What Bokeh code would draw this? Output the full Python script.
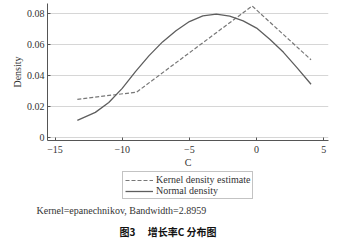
from bokeh.plotting import figure
from bokeh.layouts import column
from bokeh.models import Legend, LegendItem, Label, Range1d, FixedTicker
from bokeh.embed import file_html
from bokeh.resources import INLINE

# Data
kernel_x = [-13.34, -8.93, -0.33, 4.05]
kernel_y = [0.0248, 0.0294, 0.0848, 0.0502]

normal_x = [-13.34, -12, -11, -10, -9, -8, -7, -6, -5, -4, -3, -2, -1, 0, 1, 2, 3, 4.05]
normal_y = [0.0112, 0.0164, 0.0227, 0.0318, 0.0428, 0.0529, 0.0617, 0.0689, 0.0748,
            0.0785, 0.0796, 0.0783, 0.0752, 0.0706, 0.0633, 0.0550, 0.0452, 0.0345]

x_ticks = [-15, -10, -5, 0, 5]
y_ticks = [0, 0.02, 0.04, 0.06, 0.08]
y_tick_labels = ["0", "0.02", "0.04", "0.06", "0.08"]

legend_labels = ["Kernel density estimate", "Normal density"]
note_text = "Kernel=epanechnikov, Bandwidth=2.8959"
caption_text = "图3　 增长率C 分布图"

SERIF = "Liberation Serif"
KCOL, KDASH, KW = "#777777", "4 2", 1.2
NCOL, NW = "#5e5e5e", 1.3

p = figure(width=350, height=170, output_backend="svg", toolbar_location=None,
           x_range=Range1d(-15.56, 5.35), y_range=Range1d(-0.0017, 0.0864),
           min_border_left=47, min_border_right=22, min_border_top=3, min_border_bottom=26)
p.outline_line_color = None
p.background_fill_color = "white"
p.frame_align = False

p.line(kernel_x, kernel_y, line_color=KCOL, line_width=KW, line_dash=KDASH)
p.line(normal_x, normal_y, line_color=NCOL, line_width=NW)

p.xaxis.ticker = FixedTicker(ticks=x_ticks)
p.yaxis.ticker = FixedTicker(ticks=y_ticks)
p.yaxis.major_label_overrides = {t: l for t, l in zip(y_ticks, y_tick_labels)}
p.xaxis.axis_label = "C"
p.yaxis.axis_label = "Density"
for ax in (p.xaxis, p.yaxis):
    ax.major_tick_in = 3
    ax.major_tick_out = 0
    ax.minor_tick_line_color = None
    ax.axis_line_color = "#555555"
    ax.major_tick_line_color = "#555555"
    ax.major_label_text_font = SERIF
    ax.major_label_text_font_size = "10px"
    ax.major_label_text_color = "#333333"
    ax.axis_label_text_font = SERIF
    ax.axis_label_text_font_size = "10px"
    ax.axis_label_text_font_style = "normal"
    ax.axis_label_text_color = "#333333"
p.xaxis.major_label_standoff = 5
p.xaxis.axis_label_standoff = 1
p.yaxis.major_label_standoff = 3
p.yaxis.axis_label_standoff = 1

p.xgrid.grid_line_color = None
p.ygrid.grid_line_color = "#d6d6d6"
p.ygrid.grid_line_width = 1

# lower panel: legend, note and caption (series drawn off-view, only for the legend keys)
q = figure(width=350, height=73, output_backend="svg", toolbar_location=None,
           x_range=Range1d(100, 101), y_range=Range1d(100, 101),
           min_border_left=0, min_border_right=0, min_border_top=0, min_border_bottom=0)
q.frame_align = False
q.axis.visible = False
q.grid.visible = False
q.outline_line_color = None
qk = q.line(kernel_x, kernel_y, line_color=KCOL, line_width=KW, line_dash=KDASH)
qn = q.line(normal_x, normal_y, line_color=NCOL, line_width=NW)

legend = Legend(items=[LegendItem(label=legend_labels[0], renderers=[qk]),
                       LegendItem(label=legend_labels[1], renderers=[qn])],
                location=(122, 44), orientation="vertical",
                label_text_font=SERIF, label_text_font_size="10px", label_text_color="#333333",
                label_height=10, glyph_height=10, glyph_width=28, spacing=0,
                padding=2, margin=0, border_line_color="#888888", border_line_width=1,
                label_standoff=3, background_fill_alpha=0)
q.add_layout(legend)

q.add_layout(Label(x=36, y=33, x_units="screen", y_units="screen", text=note_text,
                   text_font=SERIF, text_font_size="10px", text_color="#333333",
                   text_baseline="middle", text_align="left"))
q.add_layout(Label(x=119, y=12, x_units="screen", y_units="screen", text=caption_text,
                   text_font="Noto Sans CJK SC", text_font_size="10px", text_font_style="bold",
                   text_color="#111111", text_baseline="middle", text_align="left"))

open("out.html", "w").write(file_html(column(p, q, spacing=0), INLINE))
